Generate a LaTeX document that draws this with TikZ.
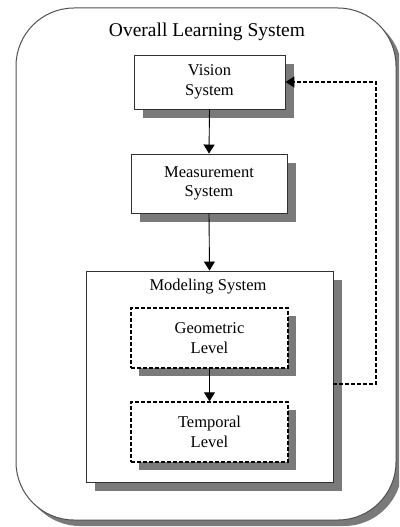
\documentclass[tikz,border=0pt]{standalone}
\usepackage{fontspec}
\setmainfont{Liberation Serif}
\usetikzlibrary{arrows.meta,shadows}
\definecolor{shadowgray}{HTML}{7A7A7A}
\definecolor{boxline}{HTML}{303030}
\definecolor{outerline}{HTML}{505050}
\begin{document}
\begin{tikzpicture}[x=1pt,y=-1pt,
  shad/.style={drop shadow={shadow xshift=#1,shadow yshift=-#1,fill=shadowgray,opacity=1}},
  boxtext/.style={align=center,font=\fontsize{16.5}{19.5}\selectfont},
  sysbox/.style={draw=boxline,line width=0.9pt,fill=white,shad=9pt,inner sep=0pt,boxtext},
  levelbox/.style={draw=black,line width=1.4pt,dash pattern=on 4pt off 2pt,fill=white,shad=8pt,inner sep=0pt,boxtext},
  flow/.style={draw=black,line width=0.9pt,-{Triangle[length=9pt,width=11pt]}},
  feedback/.style={draw=black,line width=1.3pt,dash pattern=on 4pt off 2pt,-{Triangle[length=9pt,width=11pt]}}
]
\useasboundingbox (0,0) rectangle (399,527);
\clip (0,0) rectangle (399,527);

% outer frame
\node[draw=outerline,line width=1pt,fill=white,rounded corners=58pt,
      minimum width=380pt,minimum height=512pt,inner sep=0pt,shad=6pt] (outer) at (206,264) {};
\node[font=\fontsize{19.5}{22}\selectfont] (title) at (207,32) {Overall Learning System};

% boxes
\node[sysbox,minimum width=151pt,minimum height=54pt] (vision) at (209.5,82) {Vision\\System};
\node[sysbox,minimum width=156pt,minimum height=59pt] (measure) at (209,183.5) {Measurement\\System};
\node[sysbox,minimum width=247pt,minimum height=211pt] (model) at (209.5,376.5) {};
\node[boxtext] (modeltitle) at (208,287) {Modeling System};
\node[levelbox,minimum width=157pt,minimum height=60pt] (geom) at (209.5,338) {Geometric\\Level};
\node[levelbox,minimum width=157pt,minimum height=60pt] (temp) at (209.5,432) {Temporal\\Level};

% connectors
\draw[flow] (vision.south) -- (measure.north);
\draw[flow] (measure.south) -- (model.north);
\draw[flow] (geom.south) -- (temp.north);
\coordinate (fbcorner) at (376,384);
\draw[feedback] (model.east |- fbcorner) -- (fbcorner) |- (vision.east);
\end{tikzpicture}
\end{document}
